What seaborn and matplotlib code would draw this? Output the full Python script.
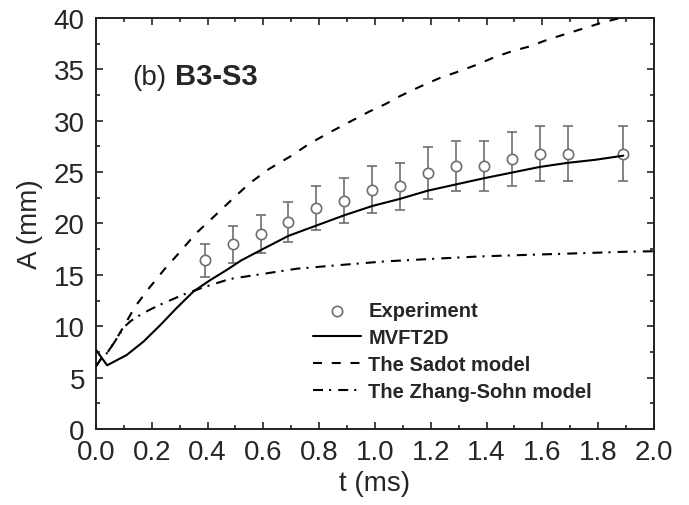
import matplotlib
matplotlib.use("Agg")
import matplotlib.pyplot as plt
import seaborn as sns
from matplotlib.ticker import MultipleLocator, FormatStrFormatter

# ---------------- data ----------------
exp_t = [0.39, 0.49, 0.59, 0.69, 0.79, 0.89, 0.99, 1.09, 1.19, 1.29, 1.39, 1.49, 1.59, 1.69, 1.89]
exp_A = [16.4, 18.0, 19.0, 20.1, 21.5, 22.2, 23.3, 23.6, 24.9, 25.6, 25.6, 26.3, 26.8, 26.8, 26.8]
exp_err = [1.6, 1.8, 1.85, 1.95, 2.1, 2.2, 2.25, 2.3, 2.5, 2.45, 2.45, 2.65, 2.65, 2.65, 2.65]

mv_t = [0.0, 0.04, 0.11, 0.17, 0.23, 0.29, 0.35, 0.41, 0.47, 0.52, 0.59, 0.69, 0.79, 0.89,
        0.99, 1.09, 1.19, 1.29, 1.39, 1.49, 1.59, 1.69, 1.79, 1.89]
mv_A = [7.7, 6.2, 7.2, 8.5, 10.1, 11.8, 13.4, 14.5, 15.5, 16.4, 17.4, 18.8, 19.8, 20.8,
        21.7, 22.4, 23.2, 23.8, 24.4, 24.95, 25.5, 25.9, 26.2, 26.6]

sadot_t = [0.0, 0.02, 0.04, 0.065, 0.1, 0.14, 0.19, 0.244, 0.30, 0.357, 0.42, 0.49, 0.55, 0.62,
           0.695, 0.767, 0.84, 0.91, 0.98, 1.036, 1.09, 1.16, 1.227, 1.29, 1.36, 1.43, 1.495,
           1.55, 1.62, 1.69, 1.75, 1.82, 1.88, 1.92]
sadot_A = [6.1, 6.9, 7.4, 8.4, 10.0, 11.9, 13.7, 15.5, 17.2, 19.0, 20.6, 22.4, 23.9, 25.3,
           26.5, 27.8, 28.9, 29.9, 30.9, 31.6, 32.4, 33.3, 34.1, 34.7, 35.4, 36.2, 36.8,
           37.2, 37.9, 38.5, 39.0, 39.6, 40.0, 40.3]

zs_t = [0.0, 0.02, 0.04, 0.065, 0.1, 0.124, 0.17, 0.23, 0.315, 0.387, 0.48, 0.6, 0.72, 0.85,
        1.03, 1.2, 1.38, 1.55, 1.73, 1.9, 2.0]
zs_A = [6.1, 6.9, 7.4, 8.4, 9.9, 10.5, 11.3, 12.1, 13.1, 13.8, 14.6, 15.1, 15.6, 15.9,
        16.3, 16.55, 16.8, 16.95, 17.1, 17.25, 17.3]

labels = ["Experiment", "MVFT2D", "The Sadot model", "The Zhang-Sohn model"]
x_ticks = [0.0, 0.2, 0.4, 0.6, 0.8, 1.0, 1.2, 1.4, 1.6, 1.8, 2.0]
y_ticks = [0, 5, 10, 15, 20, 25, 30, 35, 40]

# ---------------- style ----------------
sns.set_theme(style="ticks")
plt.rcParams["font.family"] = ["Liberation Sans", "DejaVu Sans"]
plt.rcParams["axes.linewidth"] = 1.4

fig = plt.figure(figsize=(6.89, 5.06), dpi=100)
ax = fig.add_axes([0.1393, 0.1502, 0.9492 - 0.1393, 0.9625 - 0.1502])

grey = "#6e6e6e"
ax.errorbar(exp_t, exp_A, yerr=exp_err, fmt="none", ecolor=grey, elinewidth=1.2,
            capsize=3.6, capthick=1.2, zorder=2)
sns.scatterplot(x=exp_t, y=exp_A, ax=ax, marker="o", s=55, facecolor="white",
                edgecolor=grey, linewidth=1.2, label=labels[0], zorder=2.5)

sns.lineplot(x=mv_t, y=mv_A, ax=ax, color="black", lw=1.5, label=labels[1],
             estimator=None, sort=False, zorder=3)
sns.lineplot(x=sadot_t, y=sadot_A, ax=ax, color="black", lw=1.5, label=labels[2],
             linestyle=(0, (4.3, 4.7)), estimator=None, sort=False, zorder=3)
sns.lineplot(x=zs_t, y=zs_A, ax=ax, color="black", lw=1.5, label=labels[3],
             linestyle=(0, (4.8, 2.9, 1.0, 3.4)), estimator=None, sort=False, zorder=3)

ax.set_xlim(0, 2.0)
ax.set_ylim(0, 40)
ax.set_xticks(x_ticks)
ax.set_yticks(y_ticks)
ax.xaxis.set_major_formatter(FormatStrFormatter("%.1f"))
ax.xaxis.set_minor_locator(MultipleLocator(0.1))
ax.yaxis.set_minor_locator(MultipleLocator(2.5))
ax.tick_params(which="both", direction="in", top=True, right=True, color="#222222",
               width=1.2)
ax.tick_params(which="major", length=5)
ax.tick_params(which="minor", length=3)
ax.tick_params(axis="x", which="major", labelsize=20, pad=7.5)
ax.tick_params(axis="y", which="major", labelsize=20, pad=8)
for s in ax.spines.values():
    s.set_color("#222222")
    s.set_visible(True)

ax.set_xlabel("t (ms)", fontsize=20, labelpad=3)
ax.set_ylabel("A (mm)", fontsize=20, labelpad=8)

ax.text(0.0645, 0.839, "(b)", transform=ax.transAxes, fontsize=20, va="baseline", ha="left")
ax.text(0.1416, 0.839, "B3-S3", transform=ax.transAxes, fontsize=21, fontweight="bold",
        va="baseline", ha="left")

handles, labs = ax.get_legend_handles_labels()
order = [labs.index(l) for l in labels]
ax.legend([handles[i] for i in order], [labs[i] for i in order],
          loc="center left", bbox_to_anchor=(0.389, 0.19), frameon=False,
          borderpad=0, borderaxespad=0, handlelength=2.4, handletextpad=0.35,
          labelspacing=0.4, prop={"size": 14.5, "weight": "bold"})

fig.savefig("out.png", dpi=100)
